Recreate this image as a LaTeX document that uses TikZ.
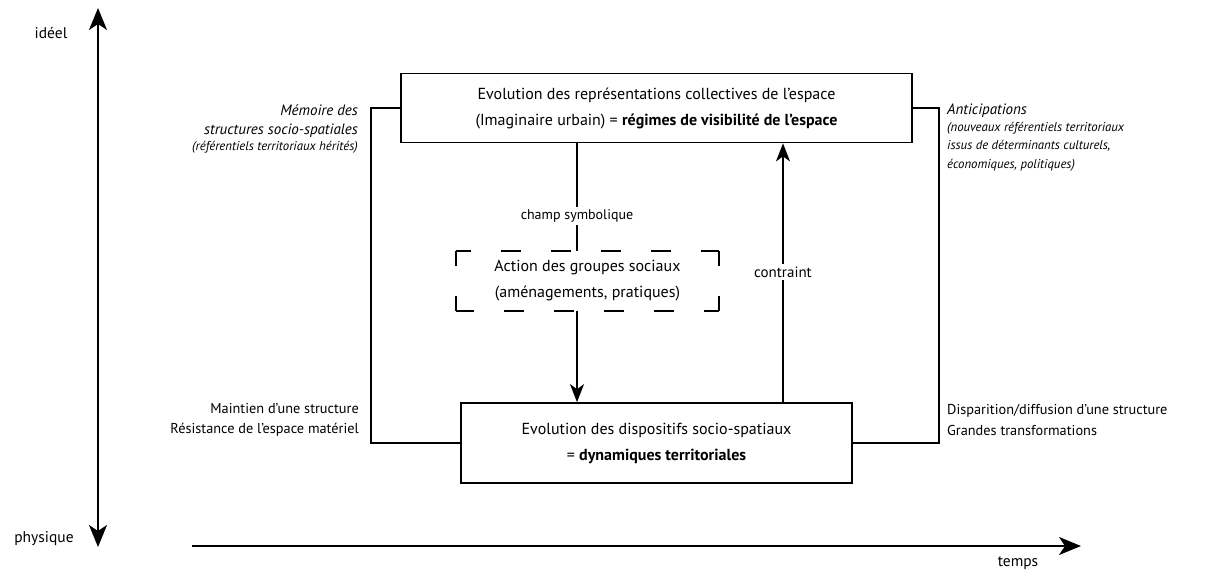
\documentclass[tikz,border=0pt]{standalone}
\usepackage{fontspec}
\setmainfont{PT Sans}
\usetikzlibrary{arrows.meta}
\begin{document}
\begin{tikzpicture}[
  x=1pt, y=-1pt,
  block/.style={rectangle, draw, line width=1.7pt, align=center, inner sep=0pt, font=\fontsize{16}{26}\selectfont},
  note/.style={inner sep=0pt, font=\fontsize{14.3}{20.5}\selectfont},
  smallnote/.style={inner sep=0pt, font=\itshape\fontsize{12.8}{18.5}\selectfont},
  link/.style={line width=1.7pt},
  flow/.style={line width=1.7pt, -{Stealth[length=18pt, width=14pt, inset=5pt]}},
  axis/.style={line width=2.2pt, {Stealth[length=22pt, width=18pt, inset=6pt]}-{Stealth[length=22pt, width=18pt, inset=6pt]}},
  timeaxis/.style={line width=2pt, -{Stealth[length=22pt, width=18pt, inset=6pt]}},
  dashedge/.style={line width=1.7pt, dash pattern=on 20pt off 30pt, dash phase=5pt}
]
\useasboundingbox (0,0) rectangle (1228,574);

% Axes
\coordinate (ideal) at (98,8);
\coordinate (phys) at (98,547);
\draw[axis] (phys) -- (ideal);
\node[note, font=\fontsize{15.5}{18}\selectfont] (ideallbl) at (51,33) {idéel};
\node[note, font=\fontsize{15.5}{18}\selectfont] (physlbl) at (44,539) {physique};
\coordinate (t0) at (192,546);
\coordinate (t1) at (1081,546);
\draw[timeaxis] (t0) -- (t1);
\node[note, font=\fontsize{15.5}{18}\selectfont] (temps) at (1018,563) {temps};

% Boxes
\node[block, minimum width=511pt, minimum height=69pt] (repr) at (656.5,108)
  {Evolution des représentations collectives de l’espace\\(Imaginaire urbain) = \textbf{régimes de visibilité de l’espace}};
\node[block, minimum width=391pt, minimum height=80pt] (disp) at (656.5,443)
  {Evolution des dispositifs socio-spatiaux\\= \textbf{dynamiques territoriales}};
\node[block, draw=none, minimum width=261pt, minimum height=58pt] (action) at (587.5,281)
  {Action des groupes sociaux\\(aménagements, pratiques)};
\foreach \a/\b in {north west/north east, north east/south east, south east/south west, south west/north west}
  \draw[dashedge] (action.\a) -- (action.\b);

% Side links
\coordinate (leftbus) at (371,300);
\coordinate (rightbus) at (939,300);
\draw[link] (repr.west) -| (leftbus) |- (disp.west);
\draw[link] (repr.east) -| (rightbus) |- (disp.east);

% Middle links
\coordinate (champ) at (577,216);
\coordinate (contr) at (783,272);
\draw[link] (repr.south -| champ) -- (action.north -| champ);
\draw[flow] (action.south -| champ) -- (disp.north -| champ);
\draw[flow] (disp.north -| contr) -- (repr.south -| contr);
\node[note, fill=white, inner sep=3pt, font=\fontsize{14}{16}\selectfont] (champlbl) at (champ) {champ symbolique};
\node[note, fill=white, inner sep=3pt, font=\fontsize{15}{17}\selectfont] (contrlbl) at (contr) {contraint};

% Annotations
\node[note, font=\itshape\fontsize{15}{19}\selectfont, align=right, anchor=north east] (memo) at (358,104)
  {Mémoire des\\structures socio-spatiales};
\node[smallnote, align=right, anchor=north east] (memoref) at ([yshift=-4pt]memo.south east)
  {(référentiels territoriaux hérités)};
\node[note, font=\itshape\fontsize{15}{19}\selectfont, anchor=north west] (antic) at (947,104) {Anticipations};
\node[smallnote, align=left, anchor=north west] (anticref) at ([yshift=-4pt]antic.south west)
  {(nouveaux référentiels territoriaux\\issus de déterminants culturels,\\économiques, politiques)};
\node[note, align=right, anchor=east] (maint) at (359,420)
  {Maintien d’une structure\\Résistance de l’espace matériel};
\node[note, align=left, anchor=west] (dispar) at (947,420)
  {Disparition/diffusion d’une structure\\Grandes transformations};
\end{tikzpicture}
\end{document}
